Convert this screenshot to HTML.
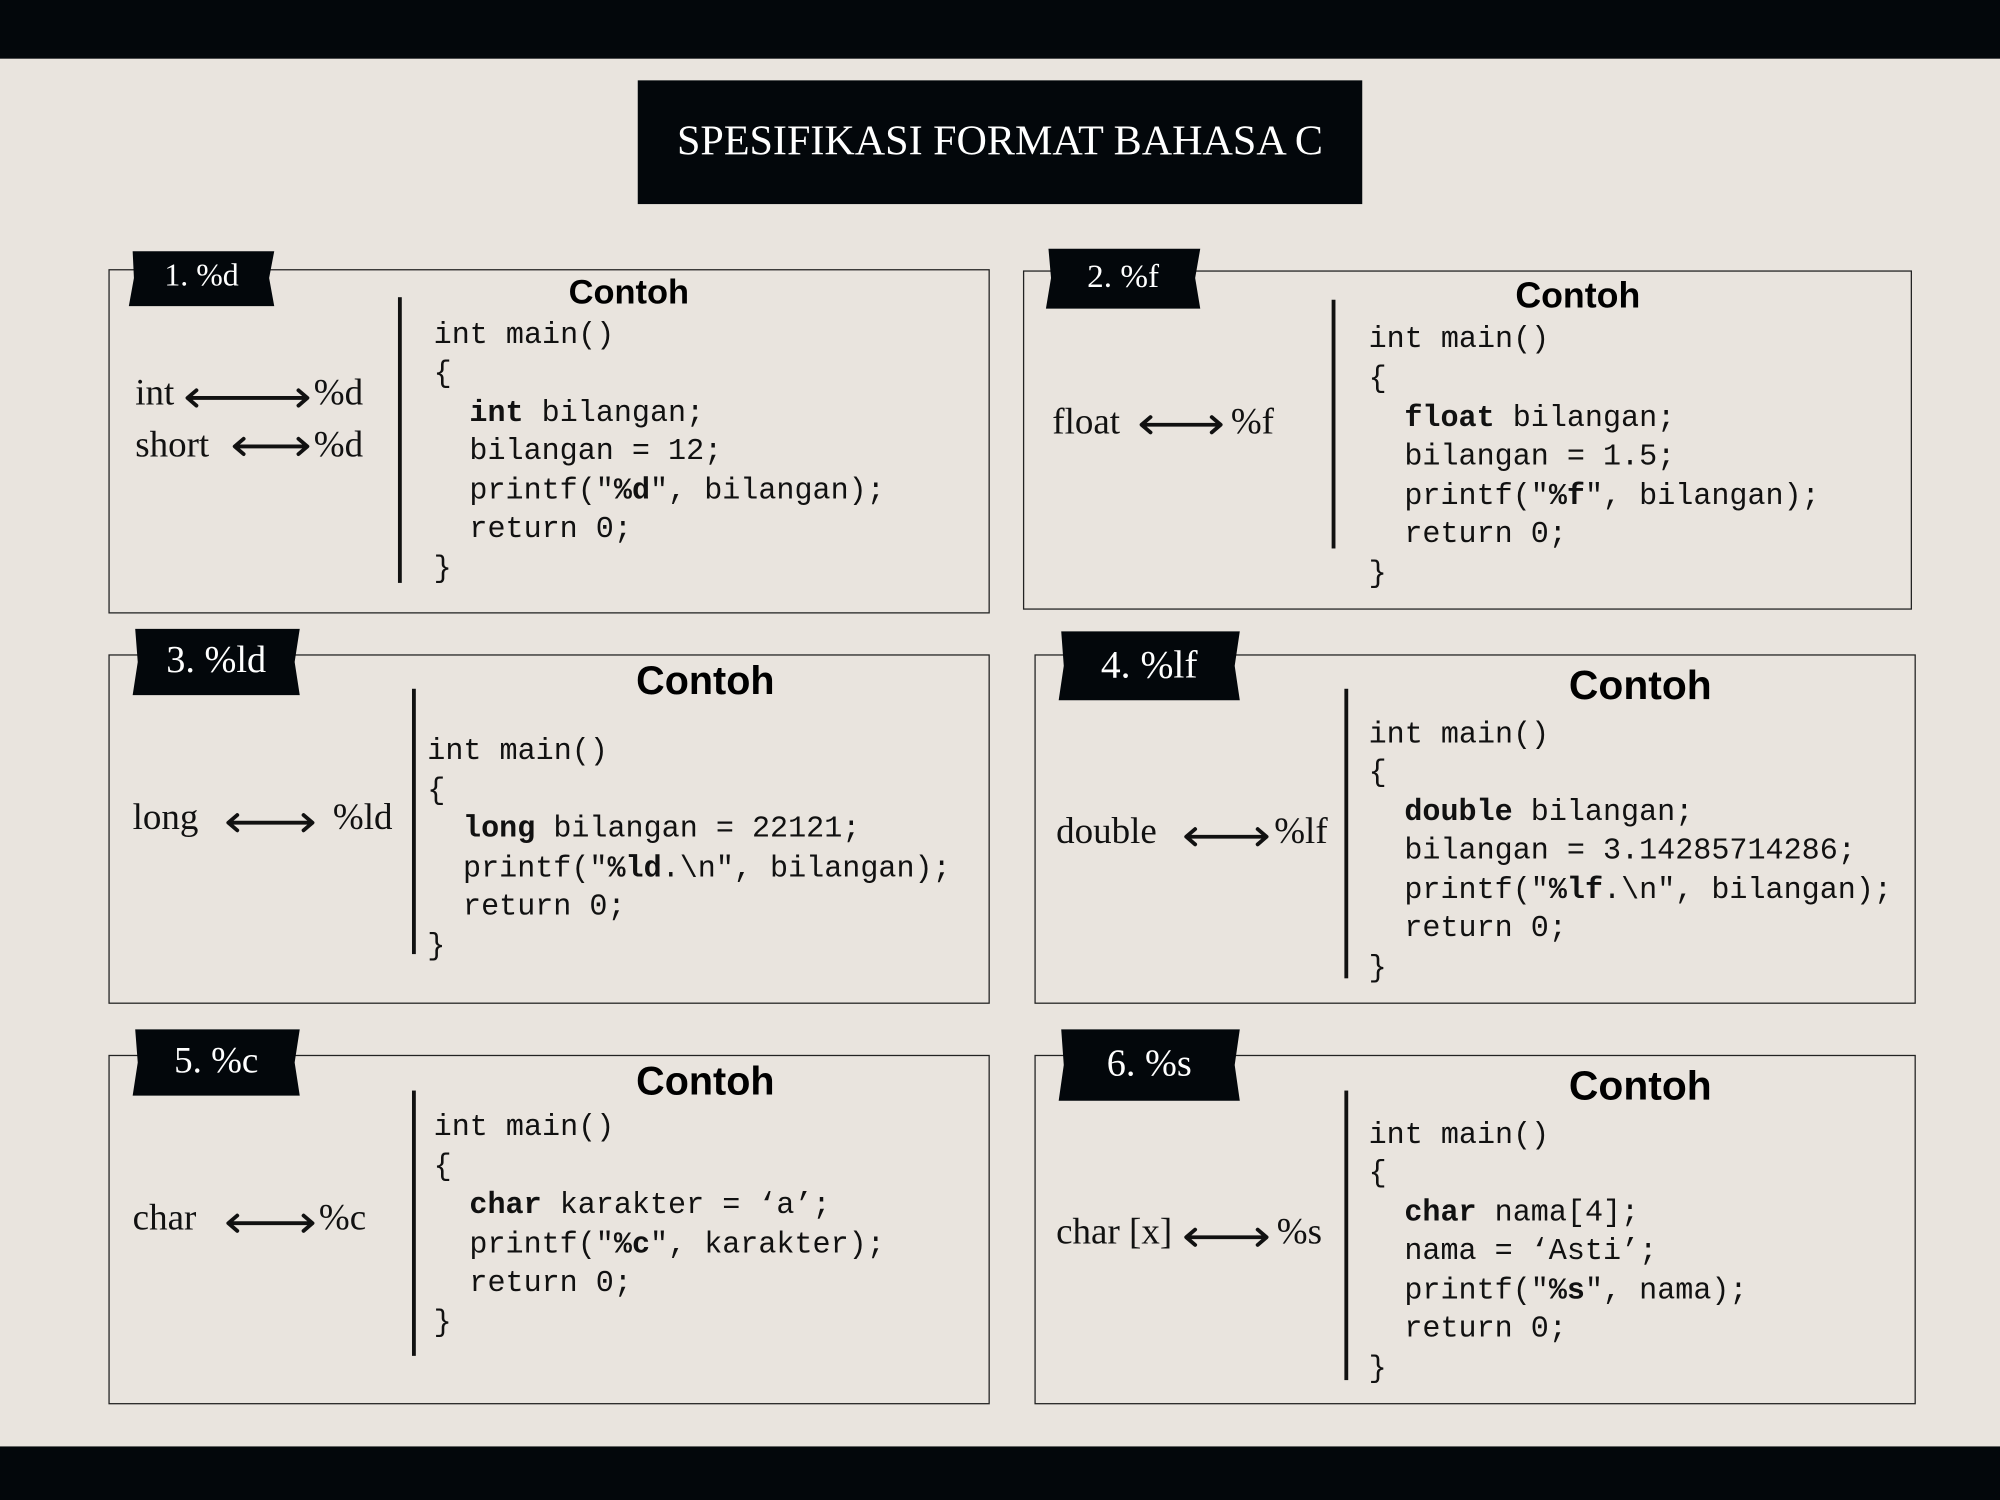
<!DOCTYPE html>
<html><head><meta charset="utf-8"><style>
html,body{margin:0;padding:0;width:2000px;height:1500px;overflow:hidden;background:#e8e3dd}
#w{position:absolute;left:0;top:0;width:1568px;height:1176px;transform:scale(1.27551);transform-origin:0 0;background:#e9e4de}
.t{position:absolute;white-space:pre;line-height:30px;height:30px}
.s{font-family:"Liberation Serif",serif;font-size:29px;color:#111}
.m{font-family:"Liberation Mono",monospace;font-size:23.6px;color:#111;margin-top:2px}
.m b{font-weight:bold}
.c{font-family:"Liberation Sans",sans-serif;font-weight:bold;color:#000;transform:translateX(-50%)}
.box{position:absolute;border:1.5px solid #222}
.vl{position:absolute;width:3px;background:#111}
.tab{position:absolute;font-family:"Liberation Serif",serif;color:#fff;text-align:center;white-space:pre}
</style></head><body><div id="w">
<div style="position:absolute;left:0;top:0;width:1568px;height:46px;background:#03070b"></div>
<div style="position:absolute;left:0;top:1134px;width:1568px;height:42px;background:#03070b"></div>
<div style="position:absolute;left:500px;top:63px;width:568px;height:97px;background:#03070b;color:#fff;font-family:'Liberation Serif',serif;font-size:33px;line-height:97px;text-align:center">SPESIFIKASI FORMAT BAHASA C</div>

<div class="box" style="left:85px;top:211px;width:689px;height:268px"></div>
<div class="box" style="left:802px;top:212px;width:695px;height:264px"></div>
<div class="box" style="left:85px;top:513px;width:689px;height:272px"></div>
<div class="box" style="left:811px;top:513px;width:689px;height:272px"></div>
<div class="box" style="left:85px;top:827px;width:689px;height:272px"></div>
<div class="box" style="left:811px;top:827px;width:689px;height:272px"></div>

<svg style="position:absolute;left:0;top:0" width="1568" height="1176">
<g fill="#03070b">
<polygon points="104,197 215,197 211,218 215,240 101,240 105,218"/>
<polygon points="822,195 941,195 937,218 941,242 820,242 824,218"/>
<polygon points="106,493 235,493 231,519 235,545 104,545 108,519"/>
<polygon points="832,495 972,495 968,522 972,549 830,549 834,522"/>
<polygon points="106,807 235,807 231,833 235,859 104,859 108,833"/>
<polygon points="832,807 972,807 968,835 972,863 830,863 834,835"/>
</g>
<g stroke="#111" stroke-width="3" fill="none" stroke-linecap="round" stroke-linejoin="round">
<path d="M148,312H240M154,306L147,312L154,318M234,306L241,312L234,318"/>
<path d="M185,350H240M191,344L184,350L191,356M234,344L241,350L234,356"/>
<path d="M896,333H956M902,327L895,333L902,339M950,327L957,333L950,339"/>
<path d="M180,645H244M186,639L179,645L186,651M238,639L245,645L238,651"/>
<path d="M931,656H992M937,650L930,656L937,662M986,650L993,656L986,662"/>
<path d="M180,959H244M186,953L179,959L186,965M238,953L245,959L238,965"/>
<path d="M931,970H992M937,964L930,970L937,976M986,964L993,970L986,976"/>
</g>
</svg>

<div class="tab" style="left:101px;top:197px;width:114px;line-height:40px;font-size:25px">1. %d</div>
<div class="tab" style="left:820px;top:195px;width:121px;line-height:44px;font-size:26px">2. %f</div>
<div class="tab" style="left:104px;top:493px;width:131px;line-height:50px;font-size:30px">3. %ld</div>
<div class="tab" style="left:830px;top:495px;width:142px;line-height:52px;font-size:31px">4. %lf</div>
<div class="tab" style="left:104px;top:807px;width:131px;line-height:50px;font-size:29px">5. %c</div>
<div class="tab" style="left:830px;top:807px;width:142px;line-height:54px;font-size:30px">6. %s</div>

<div class="vl" style="left:312px;top:233px;height:224px"></div>
<div class="vl" style="left:1044px;top:235px;height:195px"></div>
<div class="vl" style="left:323px;top:540px;height:208px"></div>
<div class="vl" style="left:1054px;top:540px;height:227px"></div>
<div class="vl" style="left:323px;top:855px;height:208px"></div>
<div class="vl" style="left:1054px;top:855px;height:227px"></div>

<div class="t c" style="left:493px;top:214px;font-size:27px">Contoh</div>
<div class="t c" style="left:1237px;top:217px;font-size:28px">Contoh</div>
<div class="t c" style="left:553px;top:519px;font-size:31px">Contoh</div>
<div class="t c" style="left:1286px;top:522px;font-size:32px">Contoh</div>
<div class="t c" style="left:553px;top:833px;font-size:31px">Contoh</div>
<div class="t c" style="left:1286px;top:836px;font-size:32px">Contoh</div>

<div class="t s" style="left:106px;top:293px">int</div>
<div class="t s" style="left:246px;top:293px">%d</div>
<div class="t s" style="left:106px;top:334px">short</div>
<div class="t s" style="left:246px;top:334px">%d</div>
<div class="t s" style="left:825px;top:316px">float</div>
<div class="t s" style="left:965px;top:316px">%f</div>
<div class="t s" style="left:104px;top:626px">long</div>
<div class="t s" style="left:261px;top:626px">%ld</div>
<div class="t s" style="left:828px;top:637px">double</div>
<div class="t s" style="left:999px;top:637px">%lf</div>
<div class="t s" style="left:104px;top:940px">char</div>
<div class="t s" style="left:250px;top:940px">%c</div>
<div class="t s" style="left:828px;top:951px">char [x]</div>
<div class="t s" style="left:1001px;top:951px">%s</div>

<div class="t m" style="left:340px;top:247px">int main()</div>
<div class="t m" style="left:340px;top:277px">{</div>
<div class="t m" style="left:368px;top:308px"><b>int</b> bilangan;</div>
<div class="t m" style="left:368px;top:338px">bilangan = 12;</div>
<div class="t m" style="left:368px;top:369px">printf("<b>%d</b>", bilangan);</div>
<div class="t m" style="left:368px;top:399px">return 0;</div>
<div class="t m" style="left:340px;top:430px">}</div>

<div class="t m" style="left:1073px;top:250px">int main()</div>
<div class="t m" style="left:1073px;top:281px">{</div>
<div class="t m" style="left:1101px;top:312px"><b>float</b> bilangan;</div>
<div class="t m" style="left:1101px;top:342px">bilangan = 1.5;</div>
<div class="t m" style="left:1101px;top:373px">printf("<b>%f</b>", bilangan);</div>
<div class="t m" style="left:1101px;top:403px">return 0;</div>
<div class="t m" style="left:1073px;top:434px">}</div>

<div class="t m" style="left:335px;top:573px">int main()</div>
<div class="t m" style="left:335px;top:604px">{</div>
<div class="t m" style="left:363px;top:634px"><b>long</b> bilangan = 22121;</div>
<div class="t m" style="left:363px;top:665px">printf("<b>%ld</b>.\n", bilangan);</div>
<div class="t m" style="left:363px;top:695px">return 0;</div>
<div class="t m" style="left:335px;top:726px">}</div>

<div class="t m" style="left:1073px;top:560px">int main()</div>
<div class="t m" style="left:1073px;top:590px">{</div>
<div class="t m" style="left:1101px;top:621px"><b>double</b> bilangan;</div>
<div class="t m" style="left:1101px;top:651px">bilangan = 3.14285714286;</div>
<div class="t m" style="left:1101px;top:682px">printf("<b>%lf</b>.\n", bilangan);</div>
<div class="t m" style="left:1101px;top:712px">return 0;</div>
<div class="t m" style="left:1073px;top:743px">}</div>

<div class="t m" style="left:340px;top:868px">int main()</div>
<div class="t m" style="left:340px;top:899px">{</div>
<div class="t m" style="left:368px;top:929px"><b>char</b> karakter = ‘a’;</div>
<div class="t m" style="left:368px;top:960px">printf("<b>%c</b>", karakter);</div>
<div class="t m" style="left:368px;top:990px">return 0;</div>
<div class="t m" style="left:340px;top:1021px">}</div>

<div class="t m" style="left:1073px;top:874px">int main()</div>
<div class="t m" style="left:1073px;top:904px">{</div>
<div class="t m" style="left:1101px;top:935px"><b>char</b> nama[4];</div>
<div class="t m" style="left:1101px;top:965px">nama = ‘Asti’;</div>
<div class="t m" style="left:1101px;top:996px">printf("<b>%s</b>", nama);</div>
<div class="t m" style="left:1101px;top:1026px">return 0;</div>
<div class="t m" style="left:1073px;top:1057px">}</div>
</div></body></html>
